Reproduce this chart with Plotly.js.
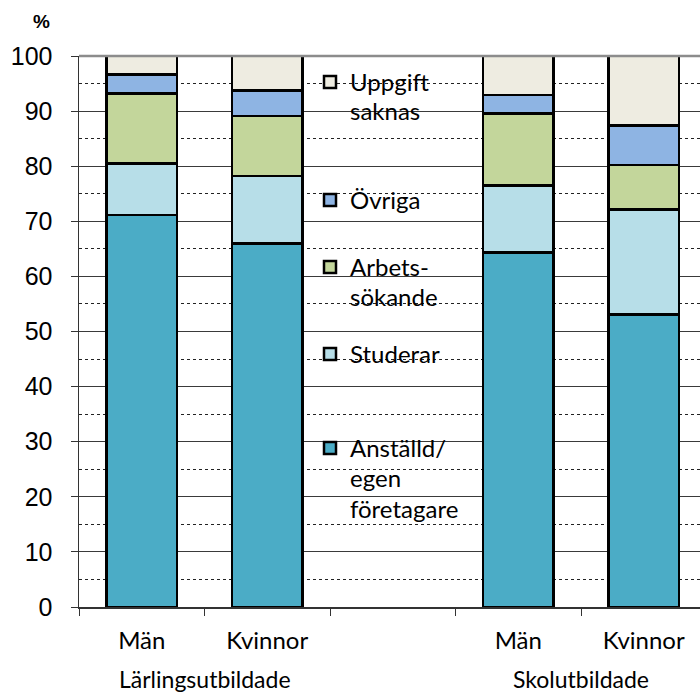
<!DOCTYPE html>
<html><head><meta charset="utf-8">
<script src="https://cdn.plot.ly/plotly-3.0.1.min.js"></script>
<style>html,body{margin:0;padding:0;background:#fff}#chart{width:700px;height:695px}</style>
</head><body><div id="chart"></div>
<script>
// ---- data ----
const barPositions = [0, 1, 3, 4];           // slot 2 left empty (legend area)
const subLabels = ["Män", "Kvinnor", "Män", "Kvinnor"];
const groupLabels = ["Lärlingsutbildade", "Skolutbildade"];
const groupCenters = [0.5, 3.5];
const yTickVals = [0,10,20,30,40,50,60,70,80,90,100];

const anstalld = [71.1, 66.0, 64.3, 53.1];
const studerar = [9.4, 12.2, 12.2, 19.0];
const arbetssokande = [12.7, 10.9, 13.1, 8.1];
const ovriga = [3.4, 4.6, 3.3, 7.2];
const uppgiftSaknas = [3.4, 6.3, 7.1, 12.6];

const seriesNames = [["Anställd/", "egen", "företagare"], ["Studerar"], ["Arbets-", "sökande"], ["Övriga"], ["Uppgift", "saknas"]];
const seriesValues = [anstalld, studerar, arbetssokande, ovriga, uppgiftSaknas];
const seriesColors = ["#4BACC6", "#B7DEE8", "#C3D69B", "#8EB4E3", "#EEECE1"];

// ---- layout helpers (pixels -> paper) ----
const W = 700, H = 695, L = 79, T = 56, B = 88;
const plotW = W - L, plotH = H - T - B;
const px = x => (x - L) / plotW;
const py = y => (H - B - y) / plotH;
const legendMarkerY = [446, 352, 265, 198, 80];  // marker centre per series
const legendX = 310;
const textX = 350;
const lineGap = 31;
const font = "Lato, 'Open Sans', sans-serif";
const FS = 24;

const traces = seriesValues.map((vals, i) => ({
  type: 'bar', x: barPositions, y: vals, name: seriesNames[i][0],
  width: 0.56,
  marker: {color: seriesColors[i], line: {color: '#000', width: 2.5}},
  legend: i === 0 ? 'legend' : 'legend' + (i + 1),
  hoverinfo: 'skip'
}));

const layout = {
  width: W, height: H,
  margin: {l: L, r: 0, t: T, b: B},
  barmode: 'stack',
  paper_bgcolor: '#fff', plot_bgcolor: '#fff',
  font: {family: font, size: FS, color: '#000'},
  xaxis: {
    type: 'linear', range: [-0.5, -0.5 + plotW / 125.5], fixedrange: true,
    tickmode: 'array', tickvals: barPositions, ticktext: subLabels,
    ticks: '', showgrid: false, zeroline: false,
    showline: true, linecolor: '#333', linewidth: 1.5,
    tickfont: {family: font, size: FS},
    ticklabelstandoff: 12,
    minor: {tick0: -0.5, dtick: 1, ticks: 'outside', ticklen: 7, tickcolor: '#333', tickwidth: 1, showgrid: false}
  },
  yaxis: {
    range: [0, 100], tickmode: 'array', tickvals: yTickVals, fixedrange: true,
    ticks: 'outside', ticklen: 7, tickcolor: '#333', tickwidth: 1,
    showline: true, linecolor: '#333', linewidth: 1.5,
    showgrid: true, gridcolor: '#3a3a3a', gridwidth: 1, zeroline: false,
    tickfont: {family: "'Liberation Sans', Arial, sans-serif", size: 25, color: '#000'},
    ticklabelstandoff: 13,
    minor: {dtick: 5, tick0: 0, showgrid: true, griddash: 'dot', gridcolor: '#222', gridwidth: 1, ticks: ''}
  },
  shapes: [{type: 'line', xref: 'paper', yref: 'paper', x0: 0, x1: 1, y0: 1, y1: 1, line: {color: '#8c8c8c', width: 2.5}}],
  annotations: [
    {text: '<b>%</b>', xref: 'paper', yref: 'paper', x: px(41), y: py(21), showarrow: false,
     font: {family: "'Liberation Sans', Arial, sans-serif", size: 19}, xanchor: 'center', yanchor: 'middle'}
  ],
  showlegend: true
};

groupLabels.forEach((g, i) => layout.annotations.push({
  text: g, xref: 'x', yref: 'paper', x: groupCenters[i], y: py(679), showarrow: false,
  xanchor: 'center', yanchor: 'middle', font: {family: font, size: 23}
}));

seriesNames.forEach((lines, i) => {
  const key = i === 0 ? 'legend' : 'legend' + (i + 1);
  layout[key] = {
    x: px(legendX), y: py(legendMarkerY[i] - 20), xanchor: 'left', yanchor: 'top',
    bgcolor: 'rgba(0,0,0,0)', borderwidth: 0, valign: 'top',
    font: {family: font, size: FS, color: '#000'}, itemclick: false, itemdoubleclick: false
  };
  lines.slice(1).forEach((ln, k) => layout.annotations.push({
    text: ln, xref: 'paper', yref: 'paper', x: px(textX - 2), y: py(legendMarkerY[i] + lineGap * (k + 1)),
    showarrow: false, xanchor: 'left', yanchor: 'middle', font: {family: font, size: FS}
  }));
});

Plotly.newPlot('chart', traces, layout, {displayModeBar: false, staticPlot: true});
</script></body></html>
